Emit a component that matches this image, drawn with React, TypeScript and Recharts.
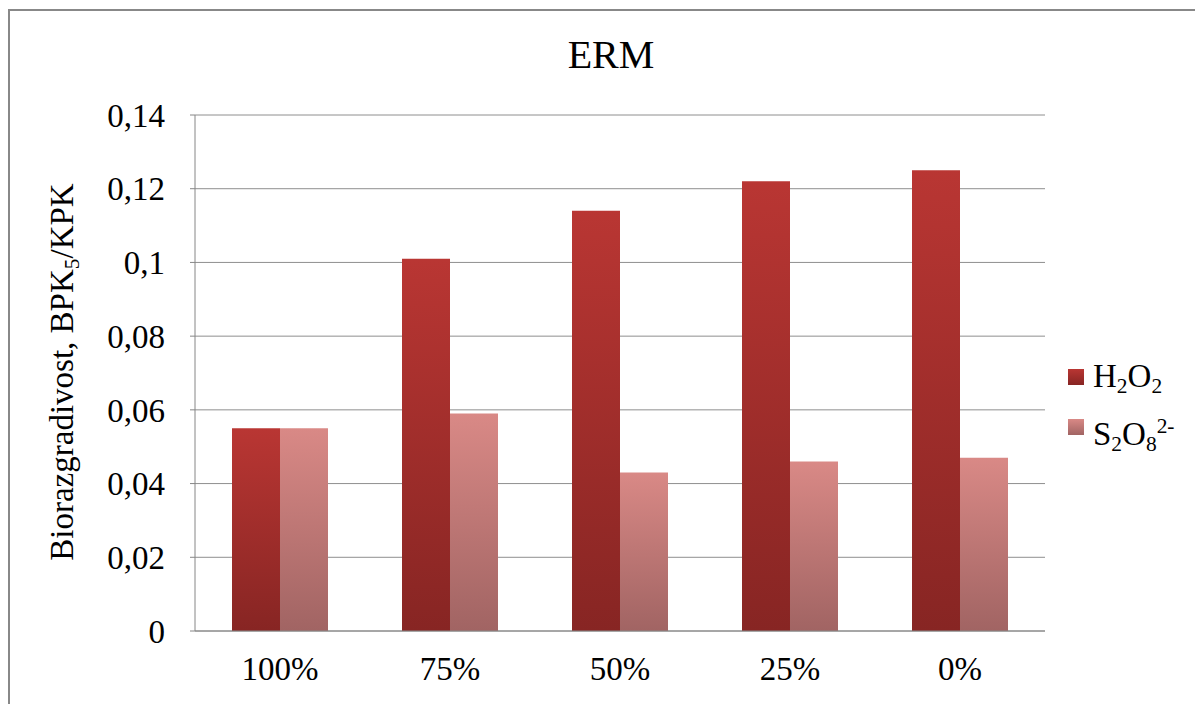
import React from 'react';
import { BarChart, Bar, XAxis, YAxis, CartesianGrid } from 'recharts';

const categories = ['100%', '75%', '50%', '25%', '0%'];
const h2o2Values = [0.055, 0.101, 0.114, 0.122, 0.125];
const s2o8Values = [0.055, 0.059, 0.043, 0.046, 0.047];
const yTicks = [0, 0.02, 0.04, 0.06, 0.08, 0.1, 0.12, 0.14];
const title = 'ERM';

const data = categories.map((c, i) => ({ name: c, h2o2: h2o2Values[i], s2o8: s2o8Values[i] }));

const fmt = (v: number) => String(v).replace('.', ',');

const FONT = '"Liberation Serif", "Times New Roman", serif';
const subStyle: React.CSSProperties = { fontSize: '0.65em', verticalAlign: '-0.3em' };
const supStyle: React.CSSProperties = { fontSize: '0.65em', verticalAlign: '0.55em' };

export default function App() {
  return (
    <div style={{ paddingTop: 1 }}>
      <div
        style={{
          position: 'relative',
          width: 1193,
          height: 694,
          borderTop: '2px solid #888',
          borderLeft: '2px solid #888',
          fontFamily: FONT,
          color: '#000',
          overflow: 'hidden',
        }}
      >
        <div
          style={{
            position: 'absolute',
            left: 601,
            top: 25,
            transform: 'translateX(-50%)',
            fontSize: 40,
            lineHeight: '38px',
            whiteSpace: 'nowrap',
          }}
        >
          {title}
        </div>
        <div
          style={{
            position: 'absolute',
            left: 57,
            top: 361,
            transform: 'translate(-50%, -50%) rotate(-90deg)',
            fontSize: 33,
            lineHeight: '36px',
            whiteSpace: 'nowrap',
          }}
        >
          Biorazgradivost, BPK<span style={subStyle}>5</span>/KPK
        </div>
        <BarChart
          width={1193}
          height={693}
          data={data}
          margin={{ top: 104, right: 158, bottom: 0, left: 0 }}
          barCategoryGap={37}
          barGap={0}
        >
          <defs>
            <linearGradient id="gH" x1="0" y1="0" x2="0" y2="1">
              <stop offset="0%" stopColor="#b93633" />
              <stop offset="100%" stopColor="#872523" />
            </linearGradient>
            <linearGradient id="gS" x1="0" y1="0" x2="0" y2="1">
              <stop offset="0%" stopColor="#d98986" />
              <stop offset="100%" stopColor="#a16463" />
            </linearGradient>
          </defs>
          <CartesianGrid horizontal vertical={false} stroke="#8e8e8e" />
          <XAxis
            dataKey="name"
            height={73}
            axisLine={{ stroke: '#868686' }}
            tickLine={false}
            tickSize={0}
            tickMargin={26}
            tick={{ fill: '#000', fontSize: 33, fontFamily: FONT }}
          />
          <YAxis
            width={185}
            domain={[0, 0.14]}
            ticks={yTicks}
            interval={0}
            tickFormatter={fmt}
            axisLine={{ stroke: '#868686' }}
            tickLine={{ stroke: '#868686' }}
            tickSize={5}
            tickMargin={25}
            tick={{ fill: '#000', fontSize: 33, fontFamily: FONT }}
          />
          <Bar dataKey="h2o2" name="H2O2" fill="url(#gH)" isAnimationActive={false} />
          <Bar dataKey="s2o8" name="S2O82-" fill="url(#gS)" isAnimationActive={false} />
        </BarChart>
        <div style={{ position: 'absolute', left: 1058, top: 358, width: 16, height: 16, background: 'linear-gradient(#b93633, #872523)' }} />
        <div
          style={{ position: 'absolute', left: 1083, top: 347, fontSize: 33, lineHeight: '36px', whiteSpace: 'nowrap' }}
        >
          H<span style={subStyle}>2</span>O<span style={subStyle}>2</span>
        </div>
        <div style={{ position: 'absolute', left: 1058, top: 408, width: 16, height: 16, background: 'linear-gradient(#d98986, #a16463)' }} />
        <div
          style={{ position: 'absolute', left: 1083, top: 397, fontSize: 33, lineHeight: '36px', whiteSpace: 'nowrap' }}
        >
          S<span style={subStyle}>2</span>O<span style={subStyle}>8</span>
          <span style={supStyle}>2-</span>
        </div>
      </div>
    </div>
  );
}
